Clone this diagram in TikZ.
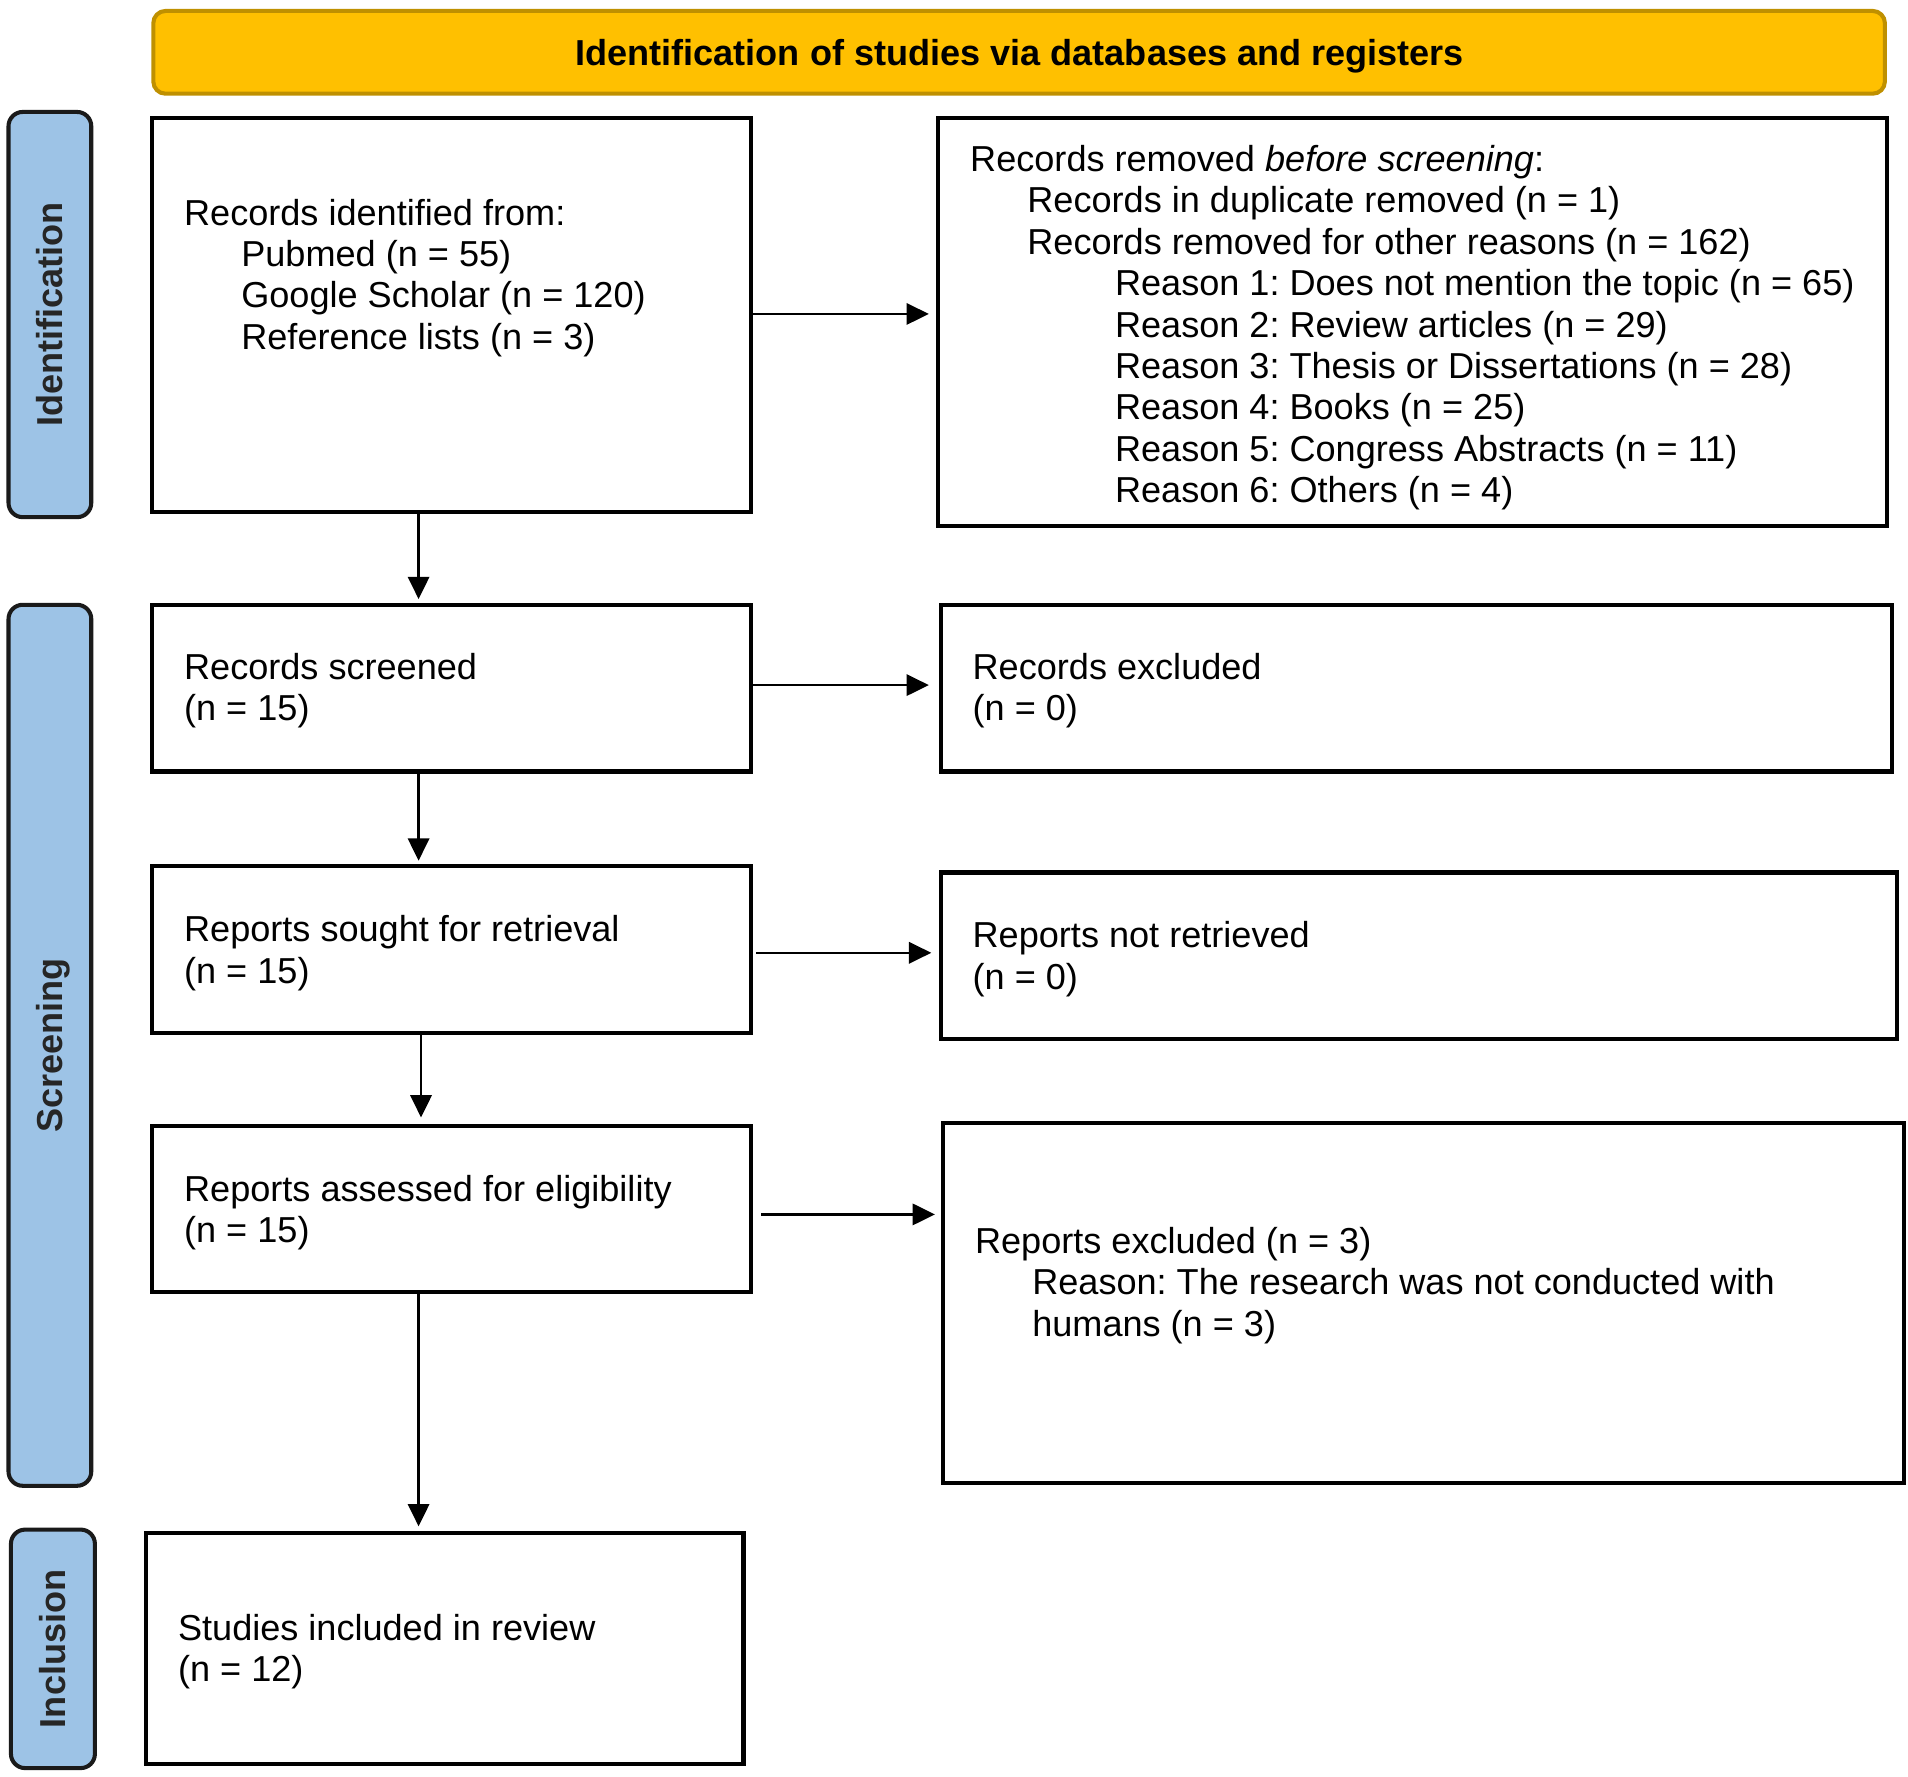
\documentclass[tikz,border=0pt]{standalone}
\usepackage{fontspec}
\setmainfont{Liberation Sans}
\usetikzlibrary{arrows.meta,fit}
\definecolor{hdrfill}{HTML}{FFC000}
\definecolor{hdrline}{HTML}{BF9000}
\definecolor{lblfill}{HTML}{9DC3E6}
\definecolor{lblline}{HTML}{1A1A1A}
\frenchspacing
\begin{document}
\begin{tikzpicture}[x=0.6pt,y=-0.6pt,
  box/.style={draw=black,line width=2pt,inner sep=0pt,fill=white},
  header/.style={draw=hdrline,fill=hdrfill,line width=2pt,rounded corners=6pt,inner sep=0pt},
  phase/.style={draw=lblline,fill=lblfill,line width=2pt,rounded corners=7pt,inner sep=0pt},
  phasetxt/.style={rotate=90,font=\fontsize{17.8}{20.4}\selectfont\bfseries,text=black!85,text height=12.7pt,text depth=0pt,inner sep=0pt},
  txt/.style={align=left,font=\fontsize{17.8}{20.4}\selectfont,inner sep=0pt},
  arr/.style={line width=1.2pt,-{Triangle[length=11pt,width=10.5pt]}}]
\useasboundingbox (0,0) rectangle (1568,1460);

% header
\node[header,fit={(126,9)(1549,77)}] (hdr) {};
\node[font=\fontsize{17.8}{20.4}\selectfont\bfseries,inner sep=0pt,anchor=base] (hdrt) at (838,54) {Identification of studies via databases and registers};

% phase labels
\node[phase,fit={(7,92)(75,425)}] (p1) {};
\node[phasetxt] (p1t) at (p1.center) {Identification};
\node[phase,fit={(7,497)(75,1221)}] (p2) {};
\node[phasetxt] (p2t) at (p2.center) {Screening};
\node[phase,fit={(9,1257)(78,1453)}] (p3) {};
\node[phasetxt] (p3t) at (p3.center) {Inclusion};

% boxes
\node[box,fit={(125,97)(617,421)}] (b1) {};
\node[box,fit={(771,97)(1551,432)}] (b2) {};
\node[box,fit={(125,497)(617,634)}] (b3) {};
\node[box,fit={(773,497)(1555,634)}] (b4) {};
\node[box,fit={(125,712)(617,849)}] (b5) {};
\node[box,fit={(773,717)(1559,854)}] (b6) {};
\node[box,fit={(125,925)(617,1062)}] (b7) {};
\node[box,fit={(775,923)(1565,1219)}] (b8) {};
\node[box,fit={(120,1260)(611,1450)}] (b9) {};

% texts (anchor = baseline of the last line)
\node[txt,anchor=base west] (t1) at (151,287) {Records identified from:\\
\hspace*{28.2pt}Pubmed (n = 55)\\
\hspace*{28.2pt}Google Scholar (n = 120)\\
\hspace*{28.2pt}Reference lists (n = 3)};
\node[txt,anchor=base west] (t2) at (797,413) {Records removed \textit{before screening}:\\
\hspace*{28.2pt}Records in duplicate removed (n = 1)\\
\hspace*{28.2pt}Records removed for other reasons (n = 162)\\
\hspace*{71.4pt}Reason 1: Does not mention the topic (n = 65)\\
\hspace*{71.4pt}Reason 2: Review articles (n = 29)\\
\hspace*{71.4pt}Reason 3: Thesis or Dissertations (n = 28)\\
\hspace*{71.4pt}Reason 4: Books (n = 25)\\
\hspace*{71.4pt}Reason 5: Congress Abstracts (n = 11)\\
\hspace*{71.4pt}Reason 6: Others (n = 4)};
\node[txt,anchor=base west] (t3) at (151,592) {Records screened\\(n = 15)};
\node[txt,anchor=base west] (t4) at (799,592) {Records excluded\\(n = 0)};
\node[txt,anchor=base west] (t5) at (151,808) {Reports sought for retrieval\\(n = 15)};
\node[txt,anchor=base west] (t6) at (799,813) {Reports not retrieved\\(n = 0)};
\node[txt,anchor=base west] (t7) at (151,1021) {Reports assessed for eligibility\\(n = 15)};
\node[txt,anchor=base west] (t8) at (801,1098) {Reports excluded (n = 3)\\
\hspace*{28.2pt}Reason: The research was not conducted with\\
\hspace*{28.2pt}humans (n = 3)};
\node[txt,anchor=base west] (t9) at (146,1382) {Studies included in review\\(n = 12)};

% horizontal arrows
\draw[arr,shorten >=3.6pt] ([yshift=0.6pt]b1.east) -- ([yshift=0.6pt]b1.east -| b2.west);
\draw[arr,shorten >=4.8pt] ([yshift=1.5pt]b3.east) -- ([yshift=1.5pt]b3.east -| b4.west);
\draw[arr,shorten <=1.8pt,shorten >=3.6pt] ([yshift=-1.5pt]b5.east) -- ([yshift=-1.5pt]b5.east -| b6.west);
\draw[arr,shorten <=4.2pt,shorten >=3pt] ([yshift=-2.7pt]b7.east) -- ([yshift=-2.7pt]b7.east -| b8.west);

% vertical arrows
\coordinate (ax) at (344,0);
\coordinate (bx) at (346,0);
\draw[arr,shorten >=1.8pt] (b1.south -| ax) -- (b3.north -| ax);
\draw[arr,shorten >=1.8pt] (b3.south -| ax) -- (b5.north -| ax);
\draw[arr,shorten >=3pt] (b5.south -| bx) -- (b7.north -| bx);
\draw[arr,shorten >=2.4pt] (b7.south -| ax) -- (b9.north -| ax);
\end{tikzpicture}
\end{document}
